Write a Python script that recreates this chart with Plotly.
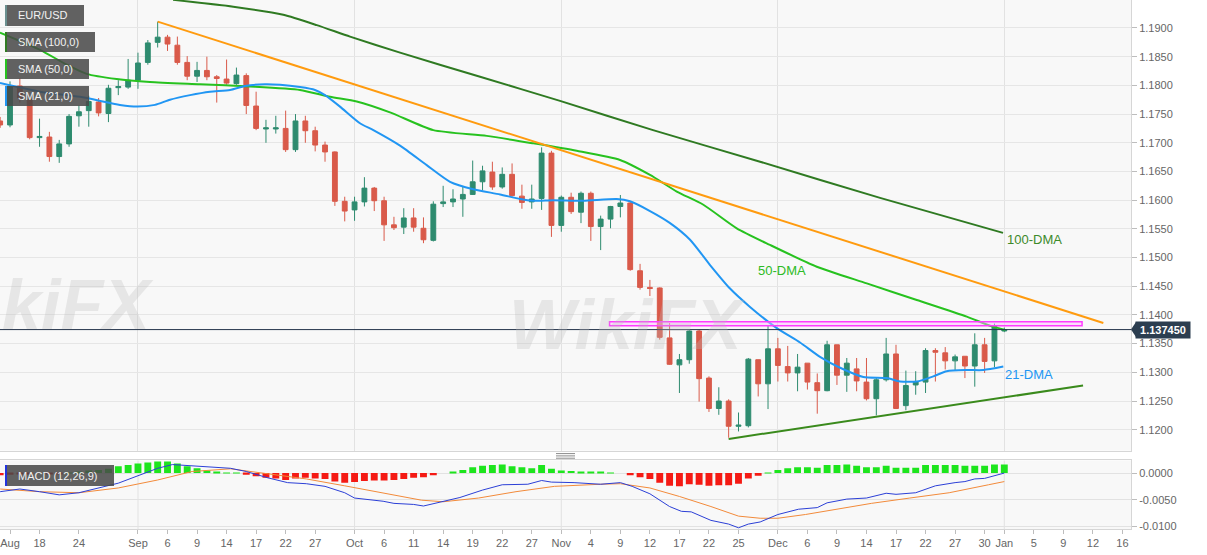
import plotly.graph_objects as go

# ---------------- data ----------------
idx = list(range(-1, 102))
opens = [1.1738, 1.1731, 1.1799, 1.1775, 1.1709, 1.1710, 1.1676, 1.1698, 1.1747, 1.1756,
         1.1771, 1.1751, 1.1796, 1.1797, 1.1809, 1.1840, 1.1875, 1.1884, 1.1870, 1.1840,
         1.1816, 1.1826, 1.1815, 1.1811, 1.1803, 1.1817, 1.1764, 1.1724, 1.1724, 1.1725,
         1.1688, 1.1738, 1.1721, 1.1696, 1.1684, 1.1598, 1.1583, 1.1597, 1.1621, 1.1599,
         1.1557, 1.1553, 1.1569, 1.1551, 1.1530, 1.1594, 1.1597, 1.1602, 1.1610, 1.1632,
         1.1649, 1.1623, 1.1645, 1.1607, 1.1597, 1.1603, 1.1682, 1.1556, 1.1605, 1.1579,
         1.1612, 1.1554, 1.1567, 1.1589, 1.1595, 1.1477, 1.1448, 1.1447, 1.1360, 1.1313,
         1.1322, 1.1372, 1.1290, 1.1237, 1.1250, 1.1206, 1.1207, 1.1322, 1.1280, 1.1341,
         1.1310, 1.1299, 1.1316, 1.1282, 1.1268, 1.1348, 1.1295, 1.1306, 1.1283, 1.1254,
         1.1287, 1.1332, 1.1242, 1.1278, 1.1283, 1.1338, 1.1334, 1.1320, 1.1328, 1.1311,
         1.1348, 1.1320, 1.1372]
highs = [1.1745, 1.1807, 1.1812, 1.1779, 1.1742, 1.1719, 1.1705, 1.1750, 1.1765, 1.1782,
         1.1778, 1.1801, 1.1809, 1.1846, 1.1857, 1.1879, 1.1911, 1.1888, 1.1885, 1.1851,
         1.1841, 1.1850, 1.1818, 1.1845, 1.1831, 1.1821, 1.1789, 1.1740, 1.1747, 1.1756,
         1.1750, 1.1747, 1.1728, 1.1702, 1.1685, 1.1606, 1.1606, 1.1640, 1.1623, 1.1606,
         1.1571, 1.1586, 1.1586, 1.1570, 1.1598, 1.1625, 1.1619, 1.1623, 1.1669, 1.1660,
         1.1667, 1.1657, 1.1664, 1.1627, 1.1627, 1.1692, 1.1686, 1.1608, 1.1613, 1.1615,
         1.1615, 1.1573, 1.1590, 1.1609, 1.1598, 1.1489, 1.1461, 1.1448, 1.1386, 1.1332,
         1.1374, 1.1374, 1.1293, 1.1274, 1.1253, 1.1230, 1.1325, 1.1322, 1.1381, 1.1360,
         1.1346, 1.1332, 1.1316, 1.1298, 1.1355, 1.1348, 1.1325, 1.1325, 1.1325, 1.1290,
         1.1360, 1.1348, 1.1303, 1.1302, 1.1342, 1.1342, 1.1344, 1.1331, 1.1328, 1.1368,
         1.1360, 1.1385, 1.1378]
lows = [1.1726, 1.1727, 1.1770, 1.1706, 1.1693, 1.1667, 1.1665, 1.1693, 1.1728, 1.1728,
        1.1746, 1.1736, 1.1783, 1.1794, 1.1794, 1.1836, 1.1866, 1.1860, 1.1836, 1.1809,
        1.1806, 1.1809, 1.1770, 1.1801, 1.1801, 1.1750, 1.1722, 1.1700, 1.1716, 1.1684,
        1.1684, 1.1700, 1.1685, 1.1667, 1.1590, 1.1563, 1.1564, 1.1589, 1.1581, 1.1529,
        1.1548, 1.1541, 1.1545, 1.1525, 1.1528, 1.1588, 1.1588, 1.1571, 1.1609, 1.1617,
        1.1618, 1.1620, 1.1606, 1.1585, 1.1585, 1.1583, 1.1536, 1.1545, 1.1576, 1.1560,
        1.1529, 1.1513, 1.1551, 1.1570, 1.1477, 1.1444, 1.1433, 1.1357, 1.1313, 1.1264,
        1.1315, 1.1249, 1.1231, 1.1226, 1.1186, 1.1197, 1.1204, 1.1258, 1.1236, 1.1284,
        1.1284, 1.1267, 1.1270, 1.1228, 1.1267, 1.1278, 1.1266, 1.1267, 1.1251, 1.1225,
        1.1284, 1.1236, 1.1234, 1.1261, 1.1264, 1.1284, 1.1305, 1.1303, 1.1290, 1.1275,
        1.1299, 1.1309, 1.1370]
closes = [1.1731, 1.1799, 1.1778, 1.1709, 1.1711, 1.1676, 1.1698, 1.1746, 1.1754, 1.1772,
          1.1752, 1.1795, 1.1798, 1.1809, 1.1839, 1.1874, 1.1884, 1.1872, 1.1840, 1.1816,
          1.1826, 1.1815, 1.1812, 1.1804, 1.1818, 1.1765, 1.1725, 1.1726, 1.1726, 1.1688,
          1.1738, 1.1721, 1.1696, 1.1684, 1.1598, 1.1581, 1.1597, 1.1621, 1.1599, 1.1557,
          1.1552, 1.1569, 1.1553, 1.1531, 1.1593, 1.1597, 1.1602, 1.1610, 1.1632, 1.1651,
          1.1623, 1.1645, 1.1608, 1.1596, 1.1602, 1.1682, 1.1556, 1.1605, 1.1580, 1.1612,
          1.1554, 1.1567, 1.1589, 1.1595, 1.1479, 1.1448, 1.1446, 1.1361, 1.1314, 1.1322,
          1.1372, 1.1289, 1.1237, 1.1250, 1.1206, 1.1208, 1.1323, 1.1280, 1.1341, 1.1312,
          1.1299, 1.1309, 1.1283, 1.1268, 1.1348, 1.1295, 1.1316, 1.1285, 1.1254, 1.1287,
          1.1332, 1.1237, 1.1277, 1.1283, 1.1338, 1.1335, 1.1320, 1.1327, 1.1311, 1.1348,
          1.1319, 1.1380, 1.13745]

sma21_k = [-1.02, 3.05, 7.11, 11.17, 12.9, 14.73, 16.25, 18.29, 20.32, 22.35, 23.87, 25.9,
           27.43, 29.46, 30.98, 32.0, 33.52, 35.55, 36.91, 39.62, 42.33, 44.7, 47.06, 49.78,
           51.81, 53.16, 55.19, 58.21, 61.63, 62.98, 65.01, 67.05, 69.08, 71.11, 73.14, 75.17,
           77.89, 80.25, 82.28, 84.32, 86.68, 89.06, 90.41, 92.11, 93.79, 95.15, 97.19, 98.87, 100.9]
sma21_v = [1.1804, 1.1789, 1.1780, 1.1766, 1.1763, 1.1766, 1.1775, 1.1783, 1.1789, 1.1792, 1.1799, 1.1802,
           1.1801, 1.1797, 1.1792, 1.1783, 1.1763, 1.1734, 1.1722, 1.1695, 1.1661, 1.1632, 1.1619, 1.1610,
           1.1602, 1.1599, 1.1600, 1.1599, 1.1602, 1.1598, 1.1581, 1.1560, 1.1531, 1.1487, 1.1446, 1.1414,
           1.1377, 1.1352, 1.1327, 1.1308, 1.1292, 1.1290, 1.1284, 1.1284, 1.1293, 1.1302, 1.1304, 1.1304, 1.1310]

sma50_k = [-1.02, 3.05, 5.76, 7.79, 10.84, 14.22, 19.3, 24.38, 29.46, 32.51, 35.22, 38.6, 43.0,
           48.43, 53.16, 57.57, 61.97, 65.01, 67.73, 70.43, 73.82, 77.2, 81.95, 87.03, 92.11,
           97.19, 99.73, 101.08]
sma50_v = [1.1892, 1.1862, 1.1836, 1.1820, 1.1811, 1.1806, 1.1802, 1.1798, 1.1792, 1.1780, 1.1772,
           1.1753, 1.1722, 1.1712, 1.1699, 1.1686, 1.1670, 1.1644, 1.1615, 1.1592, 1.1551, 1.1522,
           1.1484, 1.1455, 1.1426, 1.1397, 1.1380, 1.1374]

sma100_k = [16.56, 22.68, 27.76, 31.16, 34.54, 39.62, 47.75, 55.87, 65.32, 76.19, 88.38, 100.87]
sma100_v = [1.1949, 1.1937, 1.1923, 1.1905, 1.1885, 1.1857, 1.1815, 1.1773, 1.1722, 1.1667, 1.1604, 1.1543]

res_k = [15.0, 111.06]
res_v = [1.1911, 1.1386]
sup_k = [73.0, 109.0]
sup_v = [1.1184, 1.1277]
zone_k = [60.9, 108.9]
zone_v = [1.1381, 1.1388]
last_price = 1.13745

hist_v = [-0.0004,
          -0.0003, -0.0002, -0.0001, 0.0000, -0.0001, -0.0002, 0.0001, 0.0003, 0.0005,
          0.0006, 0.0008, 0.0013, 0.0015, 0.0018, 0.0020, 0.0022, 0.0022, 0.0018, 0.0013,
          0.0009, 0.0005, 0.0002, 0.0001, 0.0001, -0.0003, -0.0006, -0.0009, -0.0010, -0.0013,
          -0.0010, -0.0009, -0.0010, -0.0011, -0.0016, -0.0018, -0.0017, -0.0015, -0.0014, -0.0014,
          -0.0013, -0.0011, -0.0009, -0.0008, -0.0004, 0.0000, 0.0002, 0.0006, 0.0011, 0.0014,
          0.0015, 0.0016, 0.0013, 0.0011, 0.0009, 0.0015, 0.0008, 0.0005, 0.0004, 0.0003,
          0.0002, 0.0002, 0.0001, 0.0000, -0.0004, -0.0008, -0.0011, -0.0018, -0.0024, -0.0025,
          -0.0021, -0.0022, -0.0024, -0.0023, -0.0023, -0.0020, -0.0010, -0.0005, 0.0001, 0.0006,
          0.0009, 0.0011, 0.0011, 0.0010, 0.0015, 0.0015, 0.0016, 0.0014, 0.0011, 0.0011,
          0.0014, 0.0010, 0.0010, 0.0010, 0.0015, 0.0015, 0.0015, 0.0015, 0.0014, 0.0014,
          0.0014, 0.0016, 0.0016]

macd_k = [-1, 1, 3, 5, 7, 9, 11, 13, 15, 16.5, 18.5, 20.4, 22.4, 24, 26.2, 28.2, 30.1, 32, 34,
          35, 36, 37.9, 39, 41, 42, 43.7, 45.7, 48, 50, 52.6, 54, 55, 57.3, 60, 62, 63.2, 65, 67,
          68.2, 69.2, 71.2, 73, 74, 75, 76.2, 78, 80.1, 82, 83, 85, 87, 89, 90, 92, 94, 96, 97,
          98, 99, 101]
macd_v = [-0.0035, -0.0030, -0.0035, -0.0041, -0.0037, -0.0028, -0.0019, -0.0005, 0.0009,
          0.0016, 0.0014, 0.0011, 0.0009, 0.0003, -0.0009, -0.0018, -0.0020, -0.0025, -0.0037,
          -0.0047, -0.0049, -0.0053, -0.0057, -0.0059, -0.0062, -0.0054, -0.0046, -0.0032, -0.0022,
          -0.0021, -0.0014, -0.0017, -0.0018, -0.0021, -0.0018, -0.0025, -0.0039, -0.0063, -0.0072,
          -0.0073, -0.0089, -0.0096, -0.0103, -0.0096, -0.0092, -0.0078, -0.0068, -0.0065, -0.0056,
          -0.0049, -0.0047, -0.0038, -0.0040, -0.0037, -0.0024, -0.0018, -0.0016, -0.0011, -0.0010,
          0.0000]
signal_k = [-1, 3, 7, 11, 15, 18.5, 22.4, 26.2, 30.1, 34, 37.9, 41.8, 44, 47.6, 51.4, 55.3, 60,
            62, 65, 68, 71.2, 74, 76.2, 78, 80.8, 84, 87.5, 91.4, 95.4, 99.4, 101]
signal_v = [-0.0030, -0.0035, -0.0037, -0.0028, -0.0013, 0.0003, 0.0008, -0.0002, -0.0011,
            -0.0024, -0.0038, -0.0051, -0.0054, -0.0047, -0.0035, -0.0025, -0.0021, -0.0020,
            -0.0028, -0.0044, -0.0063, -0.0081, -0.0085, -0.0085, -0.0078, -0.0068, -0.0057,
            -0.0047, -0.0037, -0.0022, -0.0016]

tick_pos = [0, 3, 7, 13, 16, 19, 22, 25, 28, 31, 35, 38, 41, 44, 47, 50, 53, 56, 59, 62, 65,
            68, 71, 74, 78, 81, 84, 87, 90, 93, 96, 99, 101, 104, 107, 110, 113]
tick_txt = ["Aug", "18", "24", "Sep", "6", "9", "14", "17", "22", "27", "Oct", "6", "11", "14",
            "19", "22", "27", "Nov", "4", "9", "12", "17", "22", "25", "Dec", "6", "9", "14",
            "17", "22", "27", "30", "Jan", "5", "9", "12", "16"]
month_pos = [13, 35, 56, 78, 101]
price_ticks = [1.12 + 0.005 * i for i in range(15)]
macd_ticks = [0.0, -0.005, -0.01]
macd_tick_txt = ["0.0000", "-0.0050", "-0.0100"]

# ---------------- styling / layout ----------------
W, H = 1131, 529
FONT = "Arial, Liberation Sans, sans-serif"
GREEN, RED = "#2e8b6f", "#d95a4a"
XR = [-1.016, 113.87]
YR = [1.116344, 1.194876]
Y2R = [-0.010526, 0.002368]
MAIN_DOM = [0.148, 1.0]
MACD_DOM = [0.0, 0.1295]


def X(px):
    return px / W


def Y(py):
    return (H - py) / H


fig = go.Figure()

fig.add_trace(go.Candlestick(
    x=idx, open=opens, high=highs, low=lows, close=closes,
    increasing=dict(line=dict(color=GREEN, width=1), fillcolor=GREEN),
    decreasing=dict(line=dict(color=RED, width=1), fillcolor=RED),
    whiskerwidth=0, xaxis="x", yaxis="y", hoverinfo="skip"))

fig.add_trace(go.Scatter(x=sma100_k, y=sma100_v, mode="lines",
                         line=dict(color="#2f7a22", width=2, shape="spline", smoothing=0.6)))
fig.add_trace(go.Scatter(x=sma50_k, y=sma50_v, mode="lines",
                         line=dict(color="#27c21f", width=2, shape="spline", smoothing=0.6)))
fig.add_trace(go.Scatter(x=sma21_k, y=sma21_v, mode="lines",
                         line=dict(color="#2196f3", width=2, shape="spline", smoothing=0.6)))
fig.add_trace(go.Scatter(x=res_k, y=res_v, mode="lines", line=dict(color="#ff9b0f", width=2)))
fig.add_trace(go.Scatter(x=sup_k, y=sup_v, mode="lines", line=dict(color="#3a8a1c", width=2)))
fig.add_trace(go.Scatter(x=XR, y=[last_price, last_price], mode="lines",
                         line=dict(color="#24344a", width=1)))

# MACD panel
fig.add_trace(go.Bar(x=idx, y=hist_v, width=0.7,
                     marker=dict(color=["#1de51d" if v >= 0 else "#f51a14" for v in hist_v],
                                 line=dict(width=0)),
                     xaxis="x2", yaxis="y2"))
fig.add_trace(go.Scatter(x=signal_k, y=signal_v, mode="lines", line=dict(color="#f28a3a", width=1),
                         xaxis="x2", yaxis="y2"))
fig.add_trace(go.Scatter(x=macd_k, y=macd_v, mode="lines", line=dict(color="#2b3fd6", width=1),
                         xaxis="x2", yaxis="y2"))

shapes = []
# magenta resistance zone
shapes.append(dict(type="rect", xref="x", yref="y", x0=zone_k[0], x1=zone_k[1],
                   y0=zone_v[0], y1=zone_v[1], line=dict(color="#ff3cff", width=1.5),
                   fillcolor="rgba(255,190,255,0.45)", layer="above"))
# month gridlines in MACD panel
for m in month_pos:
    shapes.append(dict(type="line", xref="x2", yref="y2 domain", x0=m, x1=m, y0=0, y1=1,
                       line=dict(color="#e2e2e2", width=1), layer="below"))

# top-left legend boxes
boxes = [("EUR/USD", 5, 84, 5, 26, "#6a8f8f"),
         ("SMA (100,0)", 5, 95, 32, 52, "#2f7a22"),
         ("SMA (50,0)", 5, 89, 59, 79, "#27c21f"),
         ("SMA (21,0)", 5, 89, 86, 106, "#2196f3"),
         ("MACD (12,26,9)", 5, 114, 465, 486, "#2233dd")]
annotations = []
for txt, x0, x1, y0, y1, strip in boxes:
    shapes.append(dict(type="rect", xref="paper", yref="paper", x0=X(x0), x1=X(x1),
                       y0=Y(y1), y1=Y(y0), line=dict(width=0),
                       fillcolor="rgba(72,72,72,0.86)", layer="above"))
    shapes.append(dict(type="rect", xref="paper", yref="paper", x0=X(x0), x1=X(x0 + 2),
                       y0=Y(y1), y1=Y(y0), line=dict(width=0), fillcolor=strip, layer="above"))
    annotations.append(dict(xref="paper", yref="paper", x=X(16), y=Y((y0 + y1) / 2),
                            xanchor="left", yanchor="middle", text=txt, showarrow=False,
                            font=dict(family=FONT, size=11, color="#f2f2f2")))

# splitter icon between panels
for py in (453.6, 455.9, 458.2):
    shapes.append(dict(type="line", xref="paper", yref="paper", x0=X(556), x1=X(575),
                       y0=Y(py), y1=Y(py), line=dict(color="#8a8a8a", width=1)))

# price pointer
py_last = (YR[1] - last_price) / (YR[1] - YR[0]) * (H * (MAIN_DOM[1] - MAIN_DOM[0]))
shapes.append(dict(type="path", xref="paper", yref="paper",
                   path=f"M {X(1131)},{Y(py_last)} L {X(1136)},{Y(py_last - 7.5)} "
                        f"L {X(1136)},{Y(py_last + 7.5)} Z",
                   fillcolor="#2c3e50", line=dict(width=0)))
annotations.append(dict(xref="paper", yref="y", x=X(1135), y=last_price, xanchor="left",
                        yanchor="middle", text="<b>1.137450</b>", showarrow=False,
                        width=52, height=14, bgcolor="#2c3e50", borderpad=1,
                        font=dict(family=FONT, size=11, color="#ffffff")))

# MA labels
annotations.append(dict(xref="x", yref="y", x=75.8, y=1.1477, xanchor="left", yanchor="middle",
                        text="50-DMA", showarrow=False,
                        font=dict(family=FONT, size=13, color="#2dbb25")))
annotations.append(dict(xref="x", yref="y", x=101.1, y=1.1532, xanchor="left", yanchor="middle",
                        text="100-DMA", showarrow=False,
                        font=dict(family=FONT, size=13, color="#3d8a2a")))
annotations.append(dict(xref="x", yref="y", x=100.9, y=1.1297, xanchor="left", yanchor="middle",
                        text="21-DMA", showarrow=False,
                        font=dict(family=FONT, size=13, color="#2196f3")))

# faint watermarks
annotations.append(dict(xref="paper", yref="paper", x=X(0), y=Y(305), text="kiFX",
                        showarrow=False, xanchor="left", yanchor="middle",
                        font=dict(family=FONT, size=70, color="rgba(190,190,190,0.30)",
                                  weight="bold", style="italic")))
annotations.append(dict(xref="paper", yref="paper", x=X(628), y=Y(325), text="WikiFX",
                        showarrow=False, xanchor="center", yanchor="middle",
                        font=dict(family=FONT, size=70, color="rgba(190,190,190,0.30)",
                                  weight="bold", style="italic")))

axis_line = dict(showline=True, mirror=True, linecolor="#d6d6d6", linewidth=1, zeroline=False)

fig.update_layout(
    width=1207, height=555,
    margin=dict(l=0, r=76, t=0, b=26),
    paper_bgcolor="#ffffff", plot_bgcolor="#f8f8f8",
    showlegend=False, bargap=0.3, boxgap=0.3,
    font=dict(family=FONT, size=11, color="#666666"),
    shapes=shapes, annotations=annotations,
    xaxis=dict(domain=[0, 1], anchor="y", range=XR, tickvals=month_pos, showticklabels=False,
               ticks="", showgrid=True, gridcolor="#e2e2e2", rangeslider=dict(visible=False),
               **axis_line),
    yaxis=dict(domain=MAIN_DOM, anchor="x", side="right", range=YR, tickvals=price_ticks,
               ticktext=[f"{v:.4f}" for v in price_ticks], ticks="outside", ticklen=5,
               tickcolor="#bdbdbd", showgrid=True, gridcolor="#e6e6e6",
               tickfont=dict(size=11, color="#666666"), **axis_line),
    xaxis2=dict(domain=[0, 1], anchor="y2", range=XR, tickvals=tick_pos, ticktext=tick_txt,
                ticks="outside", ticklen=4, tickcolor="#bdbdbd", showgrid=False,
                tickfont=dict(size=11, color="#666666"), **axis_line),
    yaxis2=dict(domain=MACD_DOM, anchor="x2", side="right", range=Y2R, tickvals=macd_ticks,
                ticktext=macd_tick_txt, ticks="outside", ticklen=5, tickcolor="#bdbdbd",
                showgrid=True, gridcolor="#e2e2e2", tickfont=dict(size=11, color="#666666"),
                **axis_line),
)

fig.write_html("out.html", config={"displayModeBar": False},
               post_script="document.body.style.margin='0px';")
